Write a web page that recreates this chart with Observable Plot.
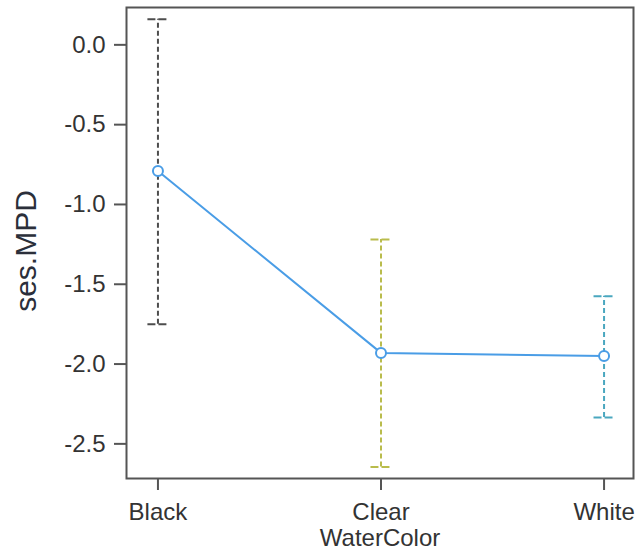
<!DOCTYPE html>
<html>
<head>
<meta charset="utf-8">
<script src="https://cdn.jsdelivr.net/npm/d3@7"></script>
<script src="https://cdn.jsdelivr.net/npm/@observablehq/plot@0.6"></script>
<style>
  html, body { margin: 0; padding: 0; background: #fff; }
  #chart svg { display: block; font-family: "Liberation Sans", Arial, sans-serif; }
</style>
</head>
<body>
<div id="chart"></div>
<script>
const categories = ["Black", "Clear", "White"];
const means = [-0.79, -1.93, -1.95];
const upper = [0.16, -1.22, -1.575];
const lower = [-1.75, -2.645, -2.335];
const barColors = ["#4d4d4d", "#b9bc4c", "#4aa7bf"];
const yTicks = [0, -0.5, -1, -1.5, -2, -2.5];
const xLabel = "WaterColor";
const yLabel = "ses.MPD";

const data = categories.map((c, i) => ({i, cat: c, mean: means[i], upper: upper[i], lower: lower[i], color: barColors[i]}));
const capHalf = 0.045;
const lineColor = "#4a9de6";
const axisColor = "#555";

const chart = Plot.plot({
  width: 639,
  height: 559,
  marginLeft: 126,
  marginRight: 6,
  marginTop: 7,
  marginBottom: 81,
  style: {fontFamily: "Liberation Sans, Arial, sans-serif", fontSize: "24px", color: "#333", background: "#fff"},
  x: {type: "linear", domain: [-0.141, 2.132]},
  y: {domain: [-2.717, 0.234]},
  marks: [
    Plot.frame({stroke: axisColor, strokeWidth: 2}),
    Plot.axisY({ticks: yTicks, tickFormat: d => d.toFixed(1), tickSize: 12, tickPadding: 9, stroke: axisColor, strokeWidth: 2, fontSize: 24, fill: "#333", label: null}),
    Plot.axisX({ticks: [0, 1, 2], tickFormat: d => categories[d], tickSize: 12, tickPadding: 12, stroke: axisColor, strokeWidth: 2, fontSize: 24, fill: "#333", label: null}),
    Plot.ruleX(data, {x: "i", y1: "lower", y2: "upper", stroke: "color", strokeWidth: 2, strokeDasharray: "5,3"}),
    Plot.ruleY(data, {y: "upper", x1: d => d.i - capHalf, x2: d => d.i + capHalf, stroke: "color", strokeWidth: 2, strokeDasharray: "8,3"}),
    Plot.ruleY(data, {y: "lower", x1: d => d.i - capHalf, x2: d => d.i + capHalf, stroke: "color", strokeWidth: 2, strokeDasharray: "8,3"}),
    Plot.line(data, {x: "i", y: "mean", stroke: lineColor, strokeWidth: 2}),
    Plot.dot(data, {x: "i", y: "mean", r: 5, stroke: lineColor, fill: "white", strokeWidth: 2}),
    Plot.text([yLabel], {frameAnchor: "left", dx: -100, dy: 8, rotate: -90, textAnchor: "middle", lineAnchor: "middle", fontSize: 30, fill: "#2b2f3a"}),
    Plot.text([xLabel], {frameAnchor: "bottom", dy: 60, textAnchor: "middle", lineAnchor: "middle", fontSize: 24, fill: "#333"})
  ]
});
document.getElementById("chart").appendChild(chart);
</script>
</body>
</html>
